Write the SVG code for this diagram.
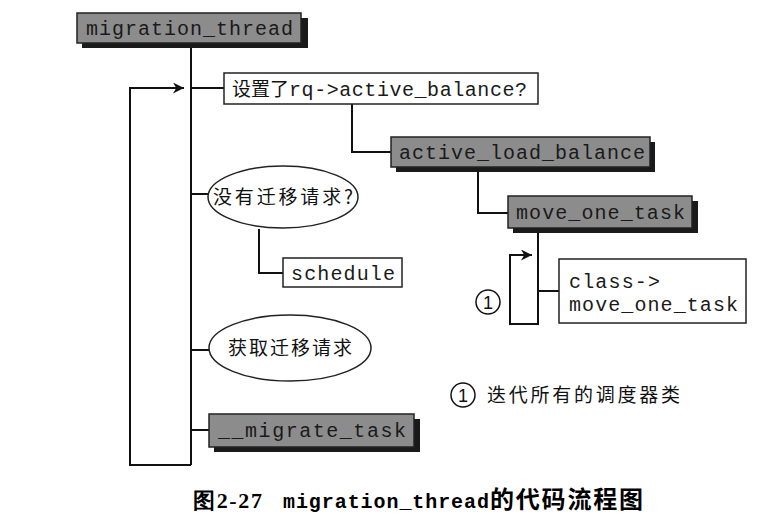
<svg xmlns="http://www.w3.org/2000/svg" width="773" height="525" viewBox="0 0 773 525">
<defs>
<style>
.ln{fill:none;stroke:#111;stroke-width:2}
.gb{fill:#8c8c8c;stroke:#222;stroke-width:1.5}
.sh{fill:#1a1a1a}
.wb{fill:#fff;stroke:#222;stroke-width:1.5}
.mono{font-family:"Liberation Mono","Noto Sans CJK SC",monospace;font-size:20px;fill:#1a1a1a}
.cjk{font-family:"Noto Sans CJK SC","Liberation Serif",serif;font-size:19px;fill:#111}
.circ{fill:none;stroke:#111;stroke-width:1.5}
.num{font-family:"Liberation Sans",sans-serif;font-size:18px;fill:#111}
</style>
<marker id="arr" viewBox="0 0 10 10" refX="10" refY="5" markerWidth="11" markerHeight="11" markerUnits="userSpaceOnUse" orient="auto">
<path d="M0,0 L10,5 L0,10 L3,5 z" fill="#111"/>
</marker>
</defs>
<rect width="773" height="525" fill="#fff"/>
<g id="connectors">
<path class="ln" d="M191,43 V465"/>
<path class="ln" d="M191,465 H130 V88 H184" marker-end="url(#arr)"/>
<path class="ln" d="M191,88 H224"/>
<path class="ln" d="M352,104 V152 H391"/>
<path class="ln" d="M478,167 V213 H508"/>
<path class="ln" d="M538,228 V324 H510 V255 H532" marker-end="url(#arr)"/>
<path class="ln" d="M538,291 H559"/>
<path class="ln" d="M191,194 H208"/>
<path class="ln" d="M259,229 V273 H283"/>
<path class="ln" d="M191,350 H209"/>
<path class="ln" d="M191,430 H209"/>
</g>
<g id="migration_thread">
<rect class="sh" x="82" y="18" width="226" height="30"/>
<rect class="gb" x="77" y="13" width="224" height="30"/>
<text class="mono" x="86" y="35" textLength="207">migration_thread</text>
</g>
<g id="check_active_balance">
<rect class="wb" x="224" y="73" width="314" height="31"/>
<text x="232" y="96"><tspan class="cjk">设置了</tspan><tspan class="mono" textLength="238">rq-&gt;active_balance?</tspan></text>
</g>
<g id="active_load_balance">
<rect class="sh" x="396" y="142" width="259" height="30"/>
<rect class="gb" x="391" y="137" width="259" height="30"/>
<text class="mono" x="399" y="159" textLength="246">active_load_balance</text>
</g>
<g id="move_one_task">
<rect class="sh" x="513" y="201" width="185" height="32"/>
<rect class="gb" x="508" y="196" width="184" height="32"/>
<text class="mono" x="516" y="219" textLength="169">move_one_task</text>
</g>
<g id="class_move_one_task">
<rect class="wb" x="559" y="259" width="187" height="64"/>
<text class="mono" x="569" y="288" textLength="91">class-&gt;</text>
<text class="mono" x="569" y="311" textLength="169">move_one_task</text>
</g>
<g id="loop_marker">
<circle class="circ" cx="488" cy="302" r="12"/>
<text class="num" x="488" y="308.5" text-anchor="middle">1</text>
</g>
<g id="no_request">
<ellipse class="wb" cx="283" cy="197" rx="75" ry="31"/>
<text class="cjk" x="283" y="204" text-anchor="middle" textLength="140">没有迁移请求?</text>
</g>
<g id="schedule">
<rect class="wb" x="283" y="258" width="119" height="29"/>
<text class="mono" x="291" y="280" textLength="104">schedule</text>
</g>
<g id="get_request">
<ellipse class="wb" cx="290" cy="348" rx="81" ry="33"/>
<text class="cjk" x="290" y="355" text-anchor="middle" textLength="124">获取迁移请求</text>
</g>
<g id="migrate_task">
<rect class="sh" x="214" y="419" width="206" height="33"/>
<rect class="gb" x="209" y="414" width="205" height="33"/>
<text class="mono" x="218" y="437" textLength="188">__migrate_task</text>
</g>
<g id="legend">
<circle class="circ" cx="463" cy="395" r="12"/>
<text class="num" x="463" y="401.5" text-anchor="middle">1</text>
<text class="cjk" x="487" y="402" textLength="193">迭代所有的调度器类</text>
</g>
<g id="caption" font-weight="bold">
<text x="193" y="508" font-family="Liberation Serif, serif" font-size="22" textLength="69">图2-27</text>
<text x="283" y="508" font-family="Liberation Mono, monospace" font-size="20" textLength="206">migration_thread</text>
<text x="490" y="508" font-family="Noto Sans CJK SC, sans-serif" font-size="24" textLength="153">的代码流程图</text>
</g>
</svg>
